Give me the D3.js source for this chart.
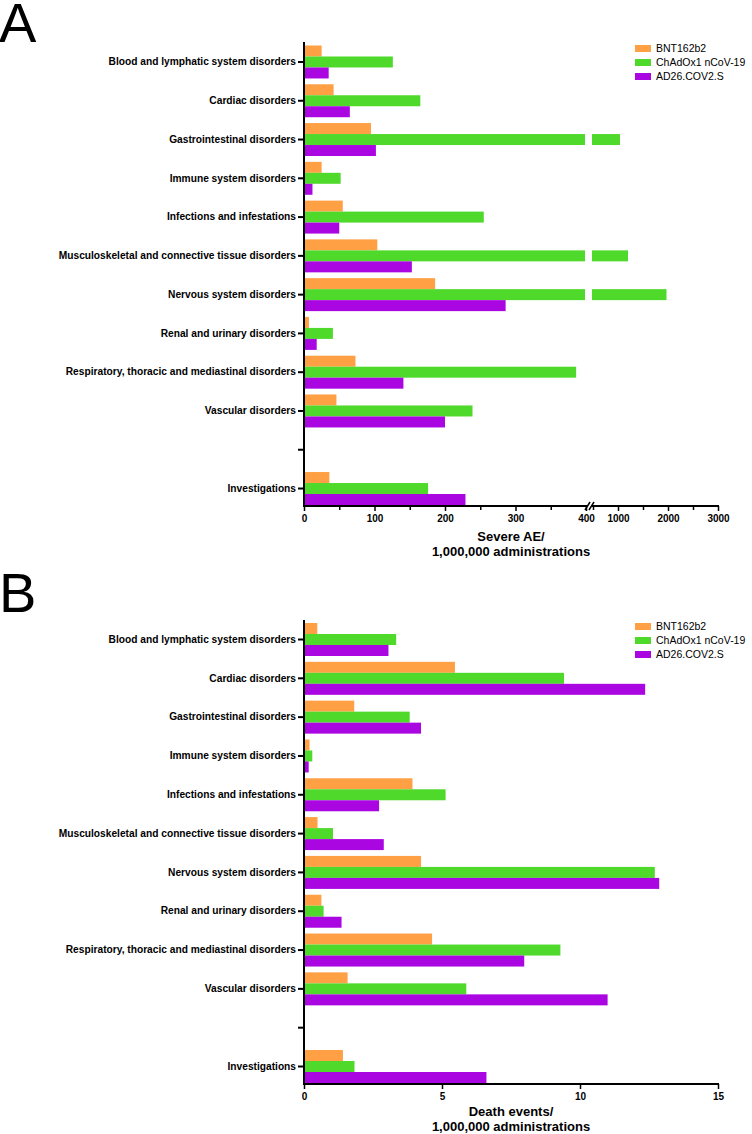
<!DOCTYPE html>
<html><head><meta charset="utf-8">
<script src="https://cdn.jsdelivr.net/npm/d3@7"></script>
<style>body{margin:0;background:#fff}svg{display:block}text{font-family:"Liberation Sans",Arial,sans-serif}</style>
</head><body><svg id="c" width="752" height="1134"></svg>
<script>
const categories = ["Blood and lymphatic system disorders","Cardiac disorders","Gastrointestinal disorders","Immune system disorders","Infections and infestations","Musculoskeletal and connective tissue disorders","Nervous system disorders","Renal and urinary disorders","Respiratory, thoracic and mediastinal disorders","Vascular disorders","","Investigations"];
const seriesNames = ["BNT162b2","ChAdOx1 nCoV-19","AD26.COV2.S"];
const seriesColors = ["#ffa044","#4fd92b","#aa06e1"];
// Panel A: severe AE per 1,000,000 administrations
const severeBNT = [25,42,95,25,55,104,186,7,73,46,null,36];
const severeChAd = [126,165,1040,52,255,1200,1970,41,386,239,null,176];
const severeAD26 = [35,65,102,12,50,153,286,18,141,200,null,229];
// Panel B: death events per 1,000,000 administrations
const deathBNT = [0.48,5.47,1.82,0.2,3.93,0.49,4.24,0.63,4.64,1.58,null,1.41];
const deathChAd = [3.34,9.42,3.83,0.3,5.13,1.05,12.71,0.71,9.29,5.88,null,1.83];
const deathAD26 = [3.06,12.36,4.24,0.17,2.72,2.89,12.87,1.36,7.98,11.0,null,6.61];
// Axis ticks
const severeTicks1 = [0,100,200,300,400];
const severeMinor1 = [50,150,250,350];
const severeTicks2 = [1000,2000,3000];
const severeMinor2 = [500,1500,2500];
const deathTicks = [0,5,10,15];

const svg = d3.select("#c");
const X0 = 304;
const fmt = d3.format("d");

function drawPanel(cfg){
  const g = svg.append("g");
  const y = d3.scaleBand().domain(categories.map((c,i)=>i)).range([cfg.yTop, cfg.yBot]).paddingInner(0.15).paddingOuter(0);
  const yi = d3.scaleBand().domain([0,1,2]).range([0, y.bandwidth()]);
  cfg.data.forEach((vals, s) => {
    vals.forEach((v, i) => {
      if (v == null) return;
      cfg.segs(v).forEach(seg => {
        g.append("rect").attr("x", seg[0]).attr("y", y(i) + yi(s))
          .attr("width", Math.max(0, seg[1]-seg[0])).attr("height", yi.bandwidth())
          .attr("fill", seriesColors[s]);
      });
    });
  });
  // y axis
  const ya = d3.axisLeft(y).tickSize(6).tickSizeOuter(0).tickFormat(i => categories[i]);
  const yg = g.append("g").attr("transform", `translate(${X0},0)`).call(ya);
  yg.select(".domain").remove();
  yg.selectAll(".tick line").attr("stroke","#000").attr("stroke-width",2);
  yg.selectAll(".tick text").attr("font-weight","bold").attr("font-size","10.2px").attr("fill","#000").attr("x",-8);
  yg.selectAll(".tick").filter(i => categories[i]==="").select("text").remove();
  g.append("line").attr("x1",X0).attr("x2",X0).attr("y1",cfg.axisTop).attr("y2",cfg.axisY+1).attr("stroke","#000").attr("stroke-width",2);
  // x axis
  cfg.xAxis(g);
  // title
  g.append("text").attr("x",511).attr("y",cfg.titleY).attr("text-anchor","middle").attr("font-weight","bold").attr("font-size","13px").text(cfg.title1);
  g.append("text").attr("x",511).attr("y",cfg.titleY+15).attr("text-anchor","middle").attr("font-weight","bold").attr("font-size","13px").text(cfg.title2);
  // legend
  seriesNames.forEach((n, s) => {
    g.append("rect").attr("x",635).attr("y",cfg.legTop + s*14).attr("width",16).attr("height",7).attr("fill",seriesColors[s]);
    g.append("text").attr("x",656).attr("y",cfg.legTop + s*14 + 7).attr("font-size","10.5px").attr("fill","#000").text(n);
  });
  // panel letter
  g.append("text").attr("x",-1).attr("y",cfg.letterY).attr("font-size","56px").text(cfg.letter);
}

function styleAxis(ag, size){
  ag.select(".domain").remove();
  ag.selectAll(".tick line").attr("stroke","#000").attr("stroke-width",1.5);
  ag.selectAll(".tick text").attr("font-weight","bold").attr("font-size",size).attr("fill","#000");
}

// Panel A
const xA1 = d3.scaleLinear().domain([0,400]).range([X0,586]);
const xA2 = d3.scaleLinear().domain([500,3000]).range([593,718]);
drawPanel({
  yTop:45.5, yBot:505, axisTop:42, axisY:506, titleY:541,
  data:[severeBNT, severeChAd, severeAD26],
  segs: v => v <= 400 ? [[X0, xA1(v)]] : [[X0, xA1(400)-1],[xA2(500)-1, xA2(v)]],
  xAxis: g => {
    const ay = 506;
    g.append("line").attr("x1",X0-1).attr("x2",587).attr("y1",ay).attr("y2",ay).attr("stroke","#000").attr("stroke-width",2);
    g.append("line").attr("x1",592).attr("x2",719).attr("y1",ay).attr("y2",ay).attr("stroke","#000").attr("stroke-width",2);
    g.append("line").attr("x1",585).attr("x2",590).attr("y1",ay+4).attr("y2",ay-4).attr("stroke","#000").attr("stroke-width",1.5);
    g.append("line").attr("x1",589).attr("x2",594).attr("y1",ay+4).attr("y2",ay-4).attr("stroke","#000").attr("stroke-width",1.5);
    const a1 = g.append("g").attr("transform",`translate(0,${ay})`).call(d3.axisBottom(xA1).tickValues(severeTicks1).tickFormat(fmt).tickSize(5).tickPadding(4));
    styleAxis(a1,"10px");
    const m1 = g.append("g").attr("transform",`translate(0,${ay})`).call(d3.axisBottom(xA1).tickValues(severeMinor1).tickSize(4).tickFormat(""));
    styleAxis(m1,"10px");
    const a2 = g.append("g").attr("transform",`translate(0,${ay})`).call(d3.axisBottom(xA2).tickValues(severeTicks2).tickFormat(fmt).tickSize(5).tickPadding(4));
    styleAxis(a2,"10px");
    const m2 = g.append("g").attr("transform",`translate(0,${ay})`).call(d3.axisBottom(xA2).tickValues(severeMinor2).tickSize(4).tickFormat(""));
    styleAxis(m2,"10px");
  },
  title1:"Severe AE/", title2:"1,000,000 administrations",
  legTop:45, letter:"A", letterY:42
});

// Panel B
const xB = d3.scaleLinear().domain([0,15]).range([X0,718]);
drawPanel({
  yTop:623, yBot:1083, axisTop:620, axisY:1084, titleY:1116,
  data:[deathBNT, deathChAd, deathAD26],
  segs: v => [[X0, xB(v)]],
  xAxis: g => {
    const ay = 1084;
    g.append("line").attr("x1",X0-1).attr("x2",719).attr("y1",ay).attr("y2",ay).attr("stroke","#000").attr("stroke-width",2);
    const a = g.append("g").attr("transform",`translate(0,${ay})`).call(d3.axisBottom(xB).tickValues(deathTicks).tickFormat(fmt).tickSize(5).tickPadding(4));
    styleAxis(a,"10px");
  },
  title1:"Death events/", title2:"1,000,000 administrations",
  legTop:623, letter:"B", letterY:612
});
</script></body></html>
